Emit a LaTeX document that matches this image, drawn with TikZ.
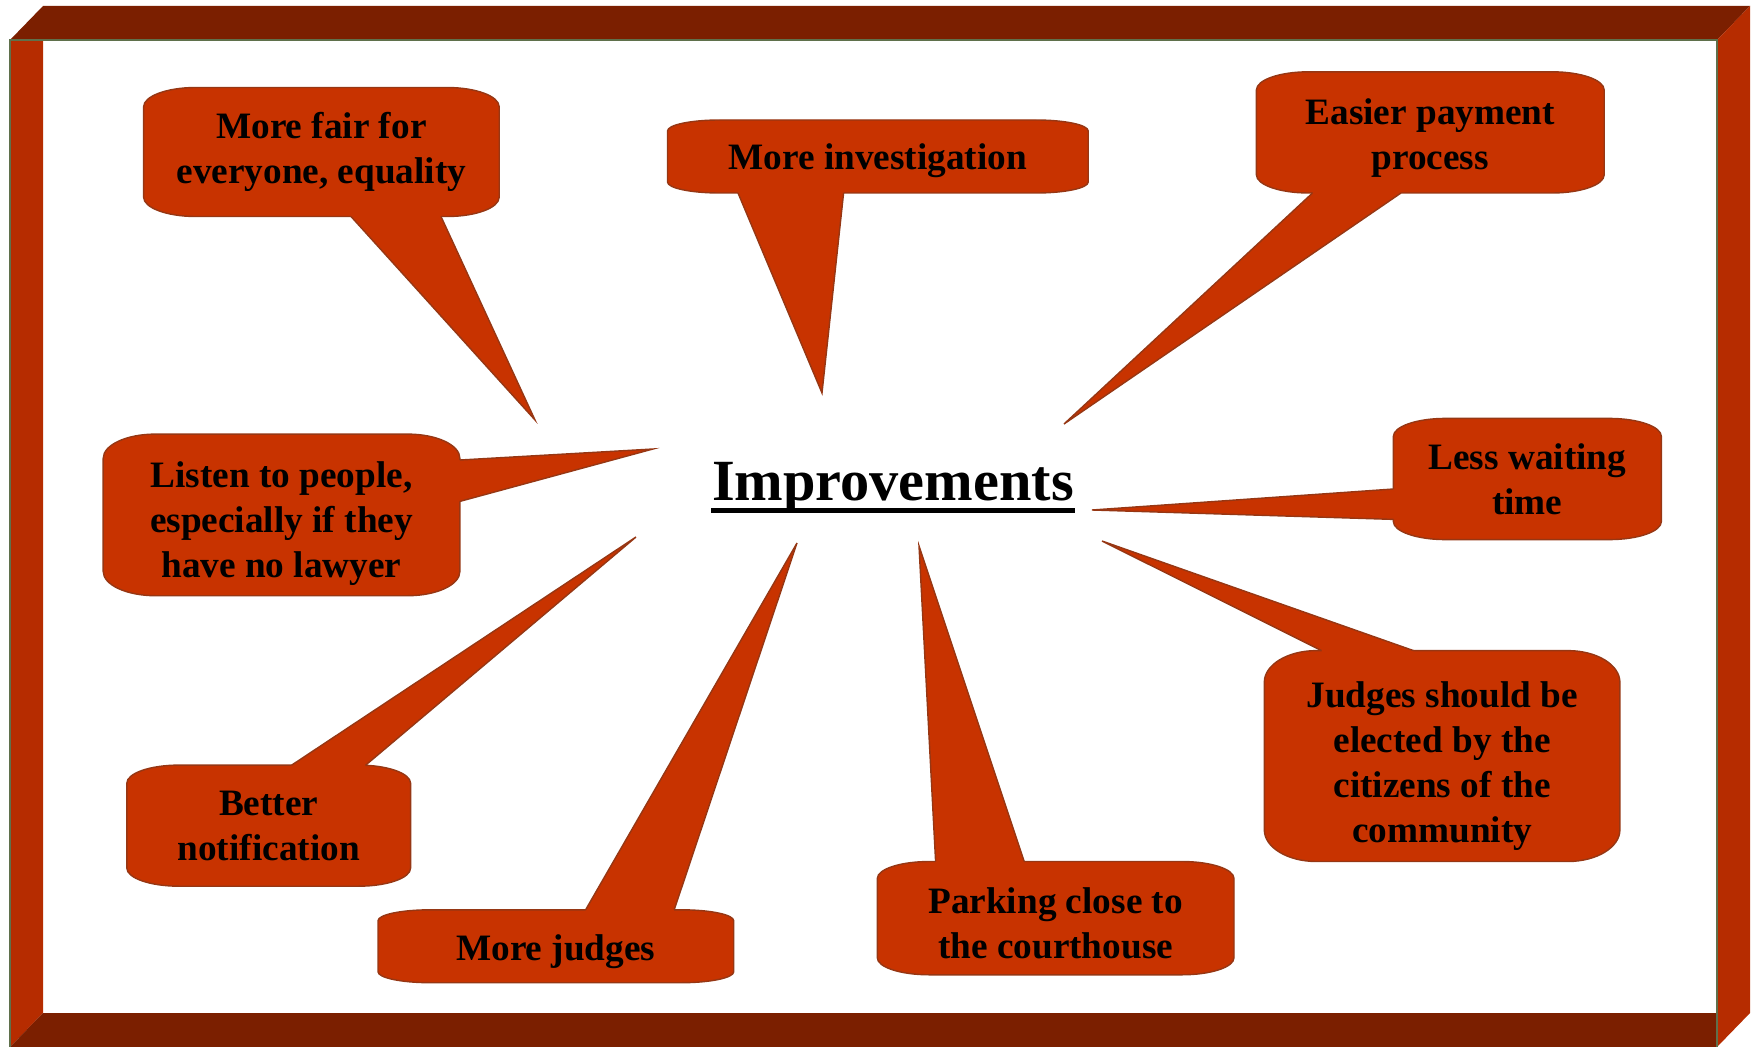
\documentclass[tikz,border=0pt]{standalone}
\usepackage{fontspec}
\setmainfont{Liberation Serif}
\usetikzlibrary{calc}

\definecolor{framedark}{RGB}{123,31,0}
\definecolor{frameside}{RGB}{182,44,0}
\definecolor{frameline}{RGB}{95,112,75}
\definecolor{bubblefill}{RGB}{200,51,0}
\definecolor{bubbleedge}{RGB}{150,55,20}

\tikzset{
  bubble/.style={fill=bubblefill, draw=bubbleedge, line width=0.4pt},
  bubbletext/.style={font=\fontsize{10.6}{12.8}\selectfont\bfseries, align=center, inner sep=0pt},
}

% box with flattened corners: x1 y1 x2 y2
\newcommand{\callbox}[4]{%
  \pgfmathsetmacro\cby{0.15*(#4-#2)}%
  \pgfmathsetmacro\cbk{0.5523*\cby}%
  \draw[bubble] (#1,#2+\cby) .. controls (#1,#2+\cby-\cbk) and (#1+23.3,#2) .. (#1+52,#2)
    -- (#3-52,#2) .. controls (#3-23.3,#2) and (#3,#2+\cby-\cbk) .. (#3,#2+\cby)
    -- (#3,#4-\cby) .. controls (#3,#4-\cby+\cbk) and (#3-23.3,#4) .. (#3-52,#4)
    -- (#1+52,#4) .. controls (#1+23.3,#4) and (#1,#4-\cby+\cbk) .. (#1,#4-\cby) -- cycle;
}
% pointer: base 1, base 2, tip, shift into the box
\newcommand{\calltail}[4]{%
  \fill[bubblefill] (#1) -- (#3) -- (#2) -- ($(#2)+#4$) -- ($(#1)+#4$) -- cycle;
  \draw[bubbleedge, line width=0.4pt] (#1) -- (#3) -- (#2);
}

\begin{document}
\begin{tikzpicture}[x=0.1mm, y=-0.1mm]
  \useasboundingbox (0,0) rectangle (1759,1047);

  % frame
  \fill[framedark] (10,40) -- (43,6) -- (1750,6) -- (1717,40) -- cycle;
  \fill[frameside] (10,40) -- (43,40) -- (43,1013) -- (10,1047) -- cycle;
  \fill[frameside] (1717,40) -- (1750,6) -- (1750,1013) -- (1717,1047) -- cycle;
  \fill[framedark] (10,1047) -- (43,1013) -- (1717,1013) -- (1717,1047) -- cycle;
  \draw[frameline, line width=0.6pt] (10,1047) -- (10,40) -- (1717,40) -- (1717,1047);

  % pointer tips
  \coordinate (fairtip) at (535,420);
  \coordinate (investtip) at (822,393);
  \coordinate (paytip) at (1064,424);
  \coordinate (listentip) at (653,449);
  \coordinate (waittip) at (1092,510);
  \coordinate (notifytip) at (636,537);
  \coordinate (judgestip) at (797,543);
  \coordinate (parktip) at (919,546);
  \coordinate (electtip) at (1102,541);

  \callbox{143.6}{87.5}{499.2}{216.5}
  \calltail{351,216.5}{441,216.5}{fairtip}{(0,-6)}
  \node[bubbletext] (fair) at (321.4,152) {More fair for\\everyone, equality};

  \callbox{667.5}{120}{1088.2}{193}
  \calltail{738,193}{843.6,193}{investtip}{(0,-6)}
  \node[bubbletext] (invest) at (877.8,161) {More investigation};

  \callbox{1256.4}{71.8}{1604.2}{193}
  \calltail{1312.5,193}{1401,193}{paytip}{(0,-6)}
  \node[bubbletext] (pay) at (1430.3,138) {Easier payment\\process};

  \callbox{103.2}{434.1}{459.9}{595.7}
  \calltail{459.9,460}{459.9,501.4}{listentip}{(-6,0)}
  \node[bubbletext] (listen) at (281.5,524) {Listen to people,\\especially if they\\have no lawyer};

  \callbox{1393.3}{418.4}{1661.4}{539.6}
  \calltail{1393.3,489}{1393.3,519.4}{waittip}{(6,0)}
  \node[bubbletext] (wait) at (1527.3,479) {Less waiting\\time};

  \callbox{126.8}{765.1}{410.6}{886.2}
  \calltail{291.7,765.1}{365.5,765.3}{notifytip}{(0,6)}
  \node[bubbletext] (notify) at (268.7,826) {Better\\notification};

  \callbox{378}{909.8}{733.7}{982.7}
  \calltail{585.6,909.8}{674.2,909.8}{judgestip}{(0,6)}
  \node[bubbletext] (judges) at (555.8,951.7) {More judges};

  \callbox{877.3}{861.5}{1234}{974.8}
  \calltail{935.6,861.5}{1024.2,861.5}{parktip}{(0,6)}
  \node[bubbletext] (park) at (1055.6,923.6) {Parking close to\\the courthouse};

  \callbox{1264.3}{650.6}{1619.9}{861.5}
  \calltail{1321.5,650.6}{1413.5,650.6}{electtip}{(0,6)}
  \node[bubbletext] (elect) at (1442.1,766) {Judges should be\\elected by the\\citizens of the\\community};

  % centre title
  \node[font=\fontsize{16.6}{20}\selectfont\bfseries, inner sep=0pt, anchor=base] (title) at (893,500) {Improvements};
  \draw[line width=1.4pt] ([yshift=-3.1pt]title.base west) -- ([yshift=-3.1pt]title.base east);
\end{tikzpicture}
\end{document}
